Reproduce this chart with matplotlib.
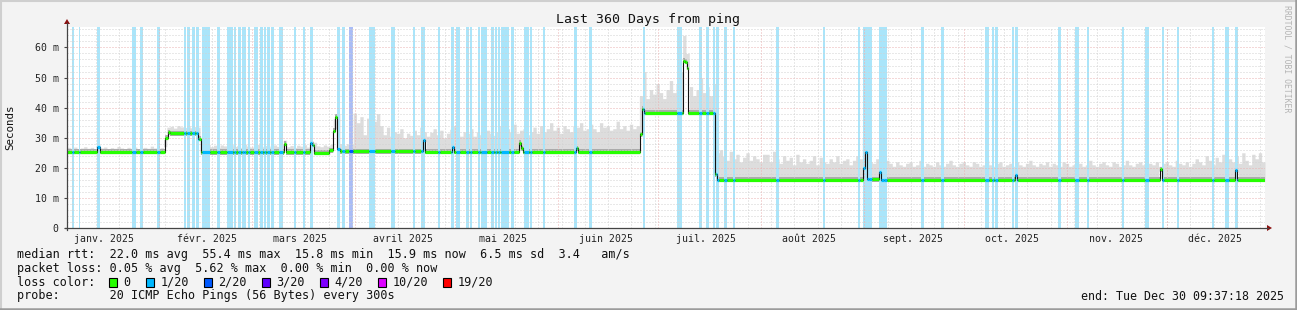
import numpy as np
import matplotlib
matplotlib.use('Agg')
import matplotlib.pyplot as plt
from matplotlib.collections import LineCollection
from matplotlib.patches import Rectangle, Polygon
from datetime import datetime, timedelta

# ---------------- data ----------------
start = datetime(2025, 1, 4, 9, 37, 18)
end = datetime(2025, 12, 30, 9, 37, 18)

title = "Last 360 Days from ping"
month_labels = ['janv. 2025', 'févr. 2025', 'mars 2025', 'avril 2025', 'mai 2025', 'juin 2025',
                'juil. 2025', 'août 2025', 'sept. 2025', 'oct. 2025', 'nov. 2025', 'déc. 2025']
y_ticks = [0, 10, 20, 30, 40, 50, 60]
y_tick_labels = ['0', '10 m', '20 m', '30 m', '40 m', '50 m', '60 m']

# median rtt (ms) as a step function: value holds from day until next change
median_change_day = [0, 9.0, 9.9, 29.4, 30.3, 30.9, 39.3, 40.2, 65.1, 65.7, 72.9, 73.5, 74.1,
                     78.6, 79.8, 80.4, 81.0, 81.9, 107.1, 107.7, 115.8, 116.4, 135.9, 136.5, 137.1,
                     153.0, 153.6, 172.2, 172.8, 173.4, 185.1, 185.7, 186.3, 186.6, 194.7, 195.4,
                     239.1, 239.7, 240.3, 243.9, 244.5, 285.0, 285.6, 328.5, 329.1, 351.0, 351.6]
median_change_ms = [25.3, 27.0, 25.3, 30.0, 31.8, 31.5, 29.6, 25.2, 27.9, 25.2, 28.3, 27.6, 25.0,
                    25.8, 32.3, 36.9, 26.3, 25.5, 29.3, 25.4, 27.0, 25.4, 28.2, 26.5, 25.3,
                    26.5, 25.3, 31.1, 39.5, 38.3, 55.5, 55.2, 53.3, 38.3, 17.8, 16.1,
                    20.0, 25.4, 16.2, 18.5, 16.1, 17.5, 16.1, 19.5, 16.1, 19.2, 16.1]

# daily max of the pings (smoke top), ms
smoke_max = [
    26.8, 26.5, 26.9, 26.4, 26.6, 27.0, 26.5, 26.8, 26.3, 27.6, 26.6, 26.9, 26.4, 26.7, 26.5,
    27.1, 26.6, 26.3, 26.8, 26.5, 26.9, 26.4, 26.6, 26.8, 26.5, 27.2, 26.6, 26.4, 26.7, 27.0,
    33.5, 33.8, 33.2, 34.0, 33.6, 33.4, 33.9, 33.3, 33.7, 33.5, 30.0, 27.2, 27.8, 27.0, 27.5,
    26.8, 27.6, 27.3, 26.9, 27.7, 27.1, 27.4, 26.8, 27.9, 27.2, 26.9, 27.5, 27.8, 27.0, 27.4,
    27.3, 26.9, 27.6, 27.1, 27.8, 29.2, 27.0, 27.4, 26.8, 27.5, 27.2, 27.7, 26.9, 29.0, 28.5,
    27.3, 27.0, 27.6, 27.2, 27.8, 33.0, 37.8, 28.0, 27.5, 28.0, 27.8, 38.2, 35.0, 37.0, 31.0,
    36.5, 33.0, 35.5, 38.0, 34.0, 31.0, 33.5, 30.5, 32.0, 31.5, 33.0, 30.0, 31.5, 30.8, 32.5,
    31.0, 33.5, 32.0, 30.5, 31.8, 33.0, 31.0, 32.5, 30.0, 31.5, 32.8, 34.0, 31.0, 30.5, 32.0,
    31.5, 33.0, 30.5, 32.0, 31.0, 30.0, 32.5, 31.5, 30.8, 32.0, 34.0, 31.0, 33.0, 32.0, 34.5,
    31.5, 32.5, 33.0, 31.0, 32.0, 33.5, 31.5, 34.0, 32.0, 33.0, 35.0, 32.5, 33.5, 31.5, 34.0,
    33.0, 32.0, 34.0, 33.5, 35.0, 32.5, 33.0, 34.5, 33.0, 32.0, 35.0, 33.5, 34.0, 32.5, 33.0,
    35.5, 33.0, 34.0, 32.5, 34.5, 33.0, 34.0, 44.0, 52.0, 43.0, 46.0, 44.5, 48.0, 45.0, 43.0,
    46.0, 49.0, 45.0, 48.0, 52.0, 64.0, 58.0, 47.0, 44.0, 46.0, 50.0, 45.0, 47.0, 44.0, 48.0,
    25.0, 26.0, 24.0, 22.5, 25.5, 23.0, 24.5, 22.0, 23.5, 25.0, 22.5, 24.0, 23.0, 22.0, 24.5,
    24.5, 22.0, 25.5, 23.0, 21.5, 24.0, 22.5, 23.5, 21.0, 24.5, 22.0, 23.0, 21.5, 22.5, 24.0,
    21.0, 23.5, 22.0, 21.5, 23.0, 22.0, 24.0, 21.5, 22.5, 23.0, 21.0, 22.5, 24.0, 23.0, 30.0,
    28.0, 22.0, 21.5, 23.0, 22.0, 21.0, 22.5, 21.5, 20.5, 22.0, 21.0, 20.5, 21.5, 22.0, 20.5,
    21.0, 22.5, 20.5, 21.5, 21.0, 20.5, 22.0, 21.0, 20.5, 21.5, 22.5, 21.0, 20.5, 21.5, 22.0,
    21.0, 20.5, 22.0, 21.5, 20.5, 21.0, 22.5, 21.0, 20.5, 21.5, 22.0, 20.5, 21.0, 21.5, 20.5,
    22.0, 21.0, 20.5, 21.5, 22.5, 21.0, 20.5, 21.5, 21.0, 22.0, 20.5, 21.5, 21.0, 20.5, 22.0,
    21.5, 20.5, 21.0, 22.0, 21.5, 20.5, 21.0, 22.5, 21.0, 20.5, 21.5, 22.0, 21.0, 20.5, 22.0,
    21.5, 20.5, 21.0, 22.5, 21.0, 20.5, 21.5, 22.0, 21.0, 20.5, 21.5, 21.0, 22.0, 20.5, 21.5,
    22.0, 21.0, 20.5, 22.5, 21.5, 21.0, 22.0, 20.5, 21.5, 23.0, 22.0, 21.0, 24.0, 22.5, 21.0,
    23.5, 22.0, 24.5, 21.5, 23.0, 22.0, 24.0, 21.5, 25.0, 22.5, 21.0, 24.5, 23.0, 25.0, 22.0,
]

# periods with packet loss (day offsets) and loss class (1 -> 1/20, 2 -> 2/20)
loss_start = [1.5, 3.6, 9.0, 19.5, 21.9, 27.0, 35.1, 36.0, 37.5, 38.7, 40.5, 45.0, 48.0, 50.1,
              51.3, 52.5, 53.25, 54.3, 56.1, 57.9, 59.1, 60.0, 61.2, 63.6, 68.1, 70.8, 72.9,
              81.0, 82.5, 84.6, 90.9, 97.5, 104.1, 106.5, 111.6, 115.5, 117.0, 120.0, 121.0,
              123.6, 124.5, 127.5, 128.5, 129.6, 130.5, 133.5, 137.4, 139.0, 143.1, 152.4,
              156.9, 173.1, 183.3, 189.9, 192.0, 194.1, 195.0, 197.4, 200.1, 213.0, 227.1,
              237.6, 239.1, 240.9, 243.9, 245.4, 256.5, 262.5, 276.0, 278.1, 279.0, 284.1,
              285.0, 297.9, 303.0, 306.6, 317.1, 324.0, 329.1, 333.6, 344.1, 348.0, 351.0]
loss_end = [2.1, 3.9, 9.9, 20.7, 22.8, 27.9, 35.7, 36.9, 38.4, 39.6, 42.9, 45.9, 49.8, 50.7,
            52.2, 53.1, 53.7, 54.9, 57.3, 58.8, 59.7, 60.9, 62.1, 64.8, 68.7, 71.4, 73.8,
            81.9, 83.4, 85.8, 92.7, 98.7, 104.7, 107.7, 112.2, 116.4, 118.2, 120.9, 121.8,
            124.2, 126.3, 128.4, 129.3, 130.2, 132.9, 134.4, 138.9, 139.8, 143.7, 153.3,
            157.8, 173.7, 184.8, 190.8, 192.9, 194.7, 195.9, 198.3, 200.7, 213.9, 227.7,
            238.2, 240.9, 241.8, 245.4, 246.3, 257.4, 263.4, 277.2, 278.7, 279.9, 284.7,
            285.9, 298.8, 304.2, 307.2, 317.7, 325.2, 329.7, 334.2, 344.7, 349.2, 351.9]
loss_class = [1] * len(loss_start)
loss_class[29] = 2

legend_line1 = "median rtt:  22.0 ms avg  55.4 ms max  15.8 ms min  15.9 ms now  6.5 ms sd  3.4   am/s"
legend_line2 = "packet loss: 0.05 % avg  5.62 % max  0.00 % min  0.00 % now"
legend_line4 = "probe:       20 ICMP Echo Pings (56 Bytes) every 300s"
loss_names = ['0', '1/20', '2/20', '3/20', '4/20', '10/20', '19/20']
loss_colors = ['#26ff00', '#00b8ff', '#0059ff', '#5e00ff', '#7e00ff', '#dd00ff', '#ff0000']
end_text = "end: Tue Dec 30 09:37:18 2025"

# ---------------- layout ----------------
W, H = 1297, 310
MONO = 'DejaVu Sans Mono'
SPAN = (end - start).total_seconds() / 86400.0

def day_of(dt):
    return (dt - start).total_seconds() / 86400.0

fig = plt.figure(figsize=(W / 100, H / 100), dpi=100, facecolor='#f3f3f3')

def fx(px):
    return px / W

def fy(py):
    return 1 - py / H

X0, X1, YT, YB = 67, 1265, 27, 228
ax = fig.add_axes([fx(X0), fy(YB), (X1 - X0) / W, (YB - YT) / H])
ax.set_xlim(0, SPAN)
ax.set_ylim(0, 66.8)
ax.set_facecolor('white')
for s in ax.spines.values():
    s.set_visible(False)

# grid
MINOR_C, MAJOR_C = '#d2d2d2', '#eab2b2'
for v in np.arange(2, 67, 2):
    ax.axhline(v, color=MAJOR_C if v % 10 == 0 else MINOR_C, lw=0.72, ls=(0, (1, 2)), zorder=2)

month_starts = [datetime(2025, m, 1) for m in range(2, 13)]
mondays = []
d = datetime(2025, 1, 6)
while d < end:
    if d > start:
        mondays.append(d)
    d += timedelta(days=7)
for m in mondays:
    ax.axvline(day_of(m), color=MINOR_C, lw=0.72, ls=(0, (1, 2)), zorder=2)
for m in month_starts:
    ax.axvline(day_of(m), color=MAJOR_C, lw=0.72, ls=(0, (1, 2)), zorder=2)

# loss background bars
bar_cols = {1: '#aae5fa', 2: '#aabcf6'}
for s0, s1, c in zip(loss_start, loss_end, loss_class):
    ax.axvspan(s0, s1, color=bar_cols[c], lw=0, zorder=1.5)

# median as function of day
cd = np.array(median_change_day)
cv = np.array(median_change_ms)

def med_at(t):
    i = np.searchsorted(cd, t, side='right') - 1
    return cv[i]

days = np.arange(361)
med_daily = np.array([med_at(i + 0.5) for i in range(360)])
smax = np.array(smoke_max)
lo = np.append(med_daily - 0.6, med_daily[-1] - 0.6)
hi = np.append(smax, smax[-1])
ax.fill_between(days, lo, hi, step='post', color='#dddddd', lw=0, zorder=1)

# darker core of the smoke
xs = np.append(cd, SPAN)
ys = np.append(cv, cv[-1])
ax.fill_between(xs, ys - 0.8, ys + 0.9, step='post', color='#ababab', lw=0, zorder=1.2)

# black median connector
ax.step(xs, ys, where='post', color='#111111', lw=0.8, zorder=3)

# colored median segments by loss class
bounds = sorted(set(list(cd) + loss_start + loss_end + [SPAN]))
segs, cols = [], []
ls_arr = np.array(loss_start)
le_arr = np.array(loss_end)
for a, b in zip(bounds[:-1], bounds[1:]):
    mid = 0.5 * (a + b)
    v = med_at(mid)
    k = 0
    hit = np.where((ls_arr <= mid) & (le_arr > mid))[0]
    if len(hit):
        k = loss_class[hit[0]]
    segs.append([(a, v), (b, v)])
    cols.append(loss_colors[k])
ax.add_collection(LineCollection(segs, colors=cols, linewidths=2.3, capstyle='butt', zorder=4))

# axes ticks
ax.set_yticks(y_ticks)
ax.set_yticklabels(y_tick_labels, fontfamily=MONO, fontsize=7.1, color='#222222')
mid_month = [datetime(2025, m, 15, 12) for m in range(1, 13)]
ax.set_xticks([day_of(m) for m in mid_month])
ax.set_xticklabels(month_labels, fontfamily=MONO, fontsize=7.1, color='#222222')
ax.tick_params(axis='y', length=2, width=0.8, color='#444444', pad=4)
ax.tick_params(axis='x', length=0, pad=4)

# overlay axes in pixel coordinates
axl = fig.add_axes([0, 0, 1, 1], facecolor='none')
axl.set_xlim(0, W)
axl.set_ylim(H, 0)
axl.axis('off')
axl.plot([X0, X0], [YB + 2, YT - 4], color='#444444', lw=0.9)
axl.plot([X0 - 2, X1 + 3], [YB, YB], color='#444444', lw=0.9)
axl.add_patch(Polygon([[X0 - 3, YT - 3], [X0 + 3, YT - 3], [X0, YT - 8]], closed=True,
                      color='#8b1010', lw=0))
axl.add_patch(Polygon([[X1 + 2, YB - 3], [X1 + 2, YB + 3], [X1 + 7, YB]], closed=True,
                      color='#8b1010', lw=0))

# border
axl.plot([0.5, 0.5], [0, H], color='#cfcfcf', lw=1.5)
axl.plot([0, W], [0.5, 0.5], color='#cfcfcf', lw=1.5)
axl.plot([W - 1, W - 1], [0, H], color='#9b9b9b', lw=1.8)
axl.plot([0, W], [H - 1, H - 1], color='#9b9b9b', lw=1.8)

# texts
fig.text(fx(648), fy(19), title, fontfamily=MONO, fontsize=9.5, ha='center', va='center', color='#111111')
fig.text(fx(10), fy(127), 'Seconds', fontfamily=MONO, fontsize=7.8, rotation=90,
         ha='center', va='center', color='#111111')
fig.text(fx(1287), fy(5), 'RRDTOOL / TOBI OETIKER', fontfamily=MONO, fontsize=5.9, rotation=270,
         ha='center', va='top', color='#b4b4b4')

LX = 16.6
LFS = 8.5
fig.text(fx(LX), fy(254.7), legend_line1, fontfamily=MONO, fontsize=LFS, va='center', color='#111111')
fig.text(fx(LX), fy(268.2), legend_line2, fontfamily=MONO, fontsize=LFS, va='center', color='#111111')
fig.text(fx(LX), fy(282.3), 'loss color:', fontfamily=MONO, fontsize=LFS, va='center', color='#111111')
fig.text(fx(LX), fy(296.0), legend_line4, fontfamily=MONO, fontsize=LFS, va='center', color='#111111')
fig.text(fx(1283.6), fy(296.0), end_text, fontfamily=MONO, fontsize=8.35, va='center', ha='right',
         color='#111111')

box_x = [108.7, 146, 204, 262, 320, 378, 443]
for bx, name, col in zip(box_x, loss_names, loss_colors):
    axl.add_patch(Rectangle((bx, 278), 8, 9, facecolor=col, edgecolor='#000000', lw=0.8))
    fig.text(fx(bx + 14.5), fy(282.3), name, fontfamily=MONO, fontsize=LFS, va='center',
             color='#111111')

fig.savefig('out.png', dpi=100, facecolor=fig.get_facecolor())
